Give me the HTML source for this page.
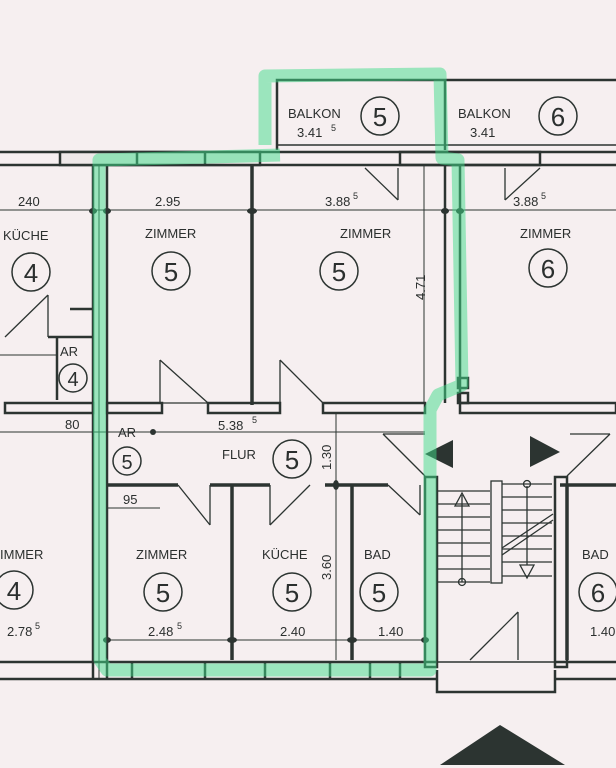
<!DOCTYPE html>
<html><head><meta charset="utf-8"><style>
html,body{margin:0;padding:0;background:#f6eff0;}
svg{display:block;}
text{font-family:"Liberation Sans",sans-serif;fill:#2b2f2e;}
</style></head><body>
<svg width="616" height="768" viewBox="0 0 616 768" xmlns="http://www.w3.org/2000/svg">
<rect width="616" height="768" fill="#f6eff0"/>
<g stroke="#2c3431" fill="none" stroke-width="2.5">
<!-- top outer wall -->
<line x1="0" y1="152" x2="616" y2="152"/>
<line x1="0" y1="165" x2="616" y2="165"/>
<rect x="60" y="152" width="200" height="13" fill="#eee8e8"/>
<line x1="137" y1="152" x2="137" y2="165"/><line x1="205" y1="152" x2="205" y2="165"/>
<rect x="400" y="152" width="140" height="13"/>
<!-- balcony -->
<polyline points="277,150 277,80 616,80"/>
<line x1="445" y1="80" x2="445" y2="150"/>
<line x1="277" y1="145" x2="616" y2="145" stroke-width="1.5"/>
<!-- left interior wall -->
<line x1="93" y1="165" x2="93" y2="680"/>
<line x1="107" y1="165" x2="107" y2="680"/>
<line x1="99" y1="165" x2="99" y2="680" stroke-width="1"/>
<!-- vertical walls -->
<line x1="252" y1="165" x2="252" y2="405" stroke-width="3.5"/>
<line x1="445" y1="165" x2="445" y2="403"/>
<line x1="460" y1="165" x2="460" y2="403"/>
<rect x="458" y="378" width="10" height="10"/><rect x="458" y="393" width="10" height="10"/>
<!-- mid wall -->
<rect x="5" y="403" width="88" height="10"/>
<rect x="107" y="403" width="55" height="10"/>
<rect x="208" y="403" width="72" height="10"/>
<rect x="323" y="403" width="102" height="10"/>
<rect x="460" y="403" width="156" height="10"/>
<!-- flur bottom wall -->
<line x1="107" y1="485" x2="178" y2="485" stroke-width="3.5"/>
<line x1="210" y1="485" x2="270" y2="485" stroke-width="3.5"/>
<line x1="325" y1="485" x2="388" y2="485" stroke-width="3.5"/>
<line x1="560" y1="485" x2="616" y2="485" stroke-width="3.5"/>
<!-- partitions -->
<line x1="232" y1="485" x2="232" y2="660" stroke-width="3.5"/>
<line x1="352" y1="485" x2="352" y2="660" stroke-width="3.5"/>
<line x1="567" y1="485" x2="567" y2="660" stroke-width="3.5"/>
<!-- stairwell walls -->
<rect x="425" y="477" width="12" height="190"/>
<rect x="555" y="477" width="12" height="190"/>
<!-- bottom wall -->
<line x1="0" y1="662" x2="437" y2="662"/>
<line x1="0" y1="679" x2="437" y2="679"/>
<line x1="555" y1="662" x2="616" y2="662"/>
<line x1="555" y1="679" x2="616" y2="679"/>
<line x1="132" y1="662" x2="132" y2="679"/><line x1="205" y1="662" x2="205" y2="679"/>
<line x1="265" y1="662" x2="265" y2="679"/><line x1="330" y1="662" x2="330" y2="679"/>
<line x1="370" y1="662" x2="370" y2="679"/><line x1="400" y1="662" x2="400" y2="679"/>
<polyline points="437,670 437,692 555,692 555,670"/>
<line x1="437" y1="662" x2="555" y2="662" stroke-width="1.5"/>
<!-- left small rooms -->
<line x1="48" y1="337" x2="93" y2="337"/>
<line x1="57" y1="337" x2="57" y2="400"/>
<line x1="0" y1="355" x2="57" y2="355" stroke-width="1"/>
<line x1="70" y1="309" x2="93" y2="309"/>
</g>
<!-- stairs -->
<g stroke="#2c3431" stroke-width="1.3" fill="none">
<line x1="437" y1="491" x2="490" y2="491"/><line x1="437" y1="504" x2="490" y2="504"/>
<line x1="437" y1="517" x2="490" y2="517"/><line x1="437" y1="530" x2="490" y2="530"/>
<line x1="437" y1="543" x2="490" y2="543"/><line x1="437" y1="556" x2="490" y2="556"/>
<line x1="437" y1="569" x2="490" y2="569"/><line x1="437" y1="582" x2="490" y2="582"/>
<line x1="502" y1="484" x2="552" y2="484"/><line x1="502" y1="497" x2="552" y2="497"/>
<line x1="502" y1="510" x2="552" y2="510"/><line x1="502" y1="523" x2="552" y2="523"/>
<line x1="502" y1="536" x2="552" y2="536"/><line x1="502" y1="549" x2="552" y2="549"/>
<line x1="502" y1="562" x2="552" y2="562"/><line x1="502" y1="576" x2="552" y2="576"/>
<rect x="491" y="481" width="11" height="102"/>
<line x1="462" y1="495" x2="462" y2="582"/><circle cx="462" cy="582" r="3.5"/>
<polygon points="462,493 455,506 469,506"/>
<line x1="527" y1="486" x2="527" y2="565"/><circle cx="527" cy="484" r="3.5"/>
<polygon points="527,578 520,565 534,565"/>
<line x1="502" y1="555" x2="553" y2="520"/><line x1="502" y1="548" x2="553" y2="514"/>
<line x1="470" y1="660" x2="518" y2="612"/><line x1="518" y1="612" x2="518" y2="660"/>
<!-- door swings -->
<polyline points="160,360 160,403 208,403" /><line x1="160" y1="360" x2="208" y2="403"/>
<line x1="280" y1="360" x2="280" y2="403"/><line x1="280" y1="360" x2="323" y2="403"/>
<line x1="178" y1="485" x2="210" y2="525"/><line x1="210" y1="485" x2="210" y2="525"/>
<line x1="270" y1="485" x2="270" y2="525"/><line x1="270" y1="525" x2="310" y2="485"/>
<line x1="388" y1="485" x2="420" y2="515"/><line x1="420" y1="485" x2="420" y2="515"/>
<line x1="383" y1="434" x2="425" y2="434"/><line x1="383" y1="434" x2="425" y2="476"/>
<line x1="570" y1="434" x2="610" y2="434"/><line x1="610" y1="434" x2="567" y2="476"/>
<line x1="505" y1="168" x2="505" y2="200"/><line x1="505" y1="200" x2="540" y2="168"/>
<line x1="398" y1="168" x2="398" y2="200"/><line x1="398" y1="200" x2="365" y2="168"/>
<line x1="48" y1="295" x2="48" y2="337"/><line x1="5" y1="337" x2="48" y2="295"/>
<!-- dimension lines -->
<line x1="0" y1="210" x2="616" y2="210" stroke-width="1"/>
<line x1="0" y1="432" x2="425" y2="432" stroke-width="1"/>
<line x1="107" y1="508" x2="160" y2="508" stroke-width="1"/>
<line x1="107" y1="640" x2="425" y2="640" stroke-width="1"/>
<line x1="336" y1="413" x2="336" y2="660" stroke-width="1"/>
<line x1="424" y1="165" x2="424" y2="403" stroke-width="1"/>
</g>
<g fill="#2c3431">
<ellipse cx="93" cy="211" rx="4" ry="3"/><ellipse cx="107" cy="211" rx="4" ry="3"/>
<ellipse cx="252" cy="211" rx="5" ry="3"/><ellipse cx="445" cy="211" rx="4" ry="3"/>
<ellipse cx="460" cy="211" rx="4" ry="3"/>
<ellipse cx="352" cy="640" rx="5" ry="3"/><ellipse cx="232" cy="640" rx="5" ry="3"/>
<ellipse cx="107" cy="640" rx="4" ry="3"/><ellipse cx="425" cy="640" rx="4" ry="3"/>
<ellipse cx="336" cy="485" rx="3" ry="5"/><ellipse cx="153" cy="432" rx="3" ry="3"/>
<polygon points="425,454 453,440 453,468"/>
<polygon points="530,436 530,467 560,452"/>
<polygon points="440,765 500,725 565,765"/>
</g>
<!-- green highlight -->
<polyline points="265,145 265,76 440,74 442,158 458,160 462,385 438,395 430,410 430,670 107,670 100,660 99,160 280,155" fill="none" stroke="#3fdc8a" stroke-opacity="0.5" stroke-width="13" stroke-linejoin="round"/>
<!-- labels -->
<g font-size="13">
<text x="288" y="118">BALKON</text><text x="297" y="137">3.41</text><text x="331" y="131" font-size="9">5</text>
<text x="458" y="118">BALKON</text><text x="470" y="137">3.41</text>
<text x="18" y="206">240</text><text x="155" y="206">2.95</text><text x="325" y="206">3.88</text><text x="353" y="199" font-size="9">5</text>
<text x="513" y="206">3.88</text><text x="541" y="199" font-size="9">5</text>
<text x="3" y="240">KÜCHE</text><text x="145" y="238">ZIMMER</text><text x="340" y="238">ZIMMER</text><text x="520" y="238">ZIMMER</text>
<text x="60" y="356">AR</text><text x="118" y="437">AR</text>
<text x="65" y="429">80</text><text x="218" y="430">5.38</text><text x="252" y="423" font-size="9">5</text>
<text x="222" y="459">FLUR</text>
<text x="123" y="504">95</text>
<text x="0" y="559">IMMER</text><text x="136" y="559">ZIMMER</text><text x="262" y="559">KÜCHE</text><text x="364" y="559">BAD</text><text x="582" y="559">BAD</text>
<text x="7" y="636">2.78</text><text x="35" y="629" font-size="9">5</text>
<text x="148" y="636">2.48</text><text x="177" y="629" font-size="9">5</text>
<text x="280" y="636">2.40</text><text x="378" y="636">1.40</text><text x="590" y="636">1.40</text>
<text transform="translate(425,300) rotate(-90)">4.71</text>
<text transform="translate(331,470) rotate(-90)">1.30</text>
<text transform="translate(331,580) rotate(-90)">3.60</text>
</g>
<g fill="none" stroke="#2c3431" stroke-width="1.5">
<circle cx="380" cy="116" r="19"/><circle cx="558" cy="116" r="19"/>
<circle cx="31" cy="272" r="19"/><circle cx="171" cy="271" r="19"/><circle cx="339" cy="271" r="19"/><circle cx="548" cy="268" r="19"/>
<circle cx="73" cy="378" r="14"/><circle cx="127" cy="461" r="14"/><circle cx="292" cy="459" r="19"/>
<circle cx="14" cy="590" r="19"/><circle cx="163" cy="592" r="19"/><circle cx="292" cy="592" r="19"/><circle cx="379" cy="592" r="19"/><circle cx="598" cy="592" r="19"/>
</g>
<g font-size="26" text-anchor="middle">
<text x="380" y="126">5</text><text x="558" y="126">6</text>
<text x="31" y="282">4</text><text x="171" y="281">5</text><text x="339" y="281">5</text><text x="548" y="278">6</text>
<text x="73" y="386" font-size="20">4</text><text x="127" y="469" font-size="20">5</text><text x="292" y="469">5</text>
<text x="14" y="600">4</text><text x="163" y="602">5</text><text x="292" y="602">5</text><text x="379" y="602">5</text><text x="598" y="602">6</text>
</g>
</svg>
</body></html>
